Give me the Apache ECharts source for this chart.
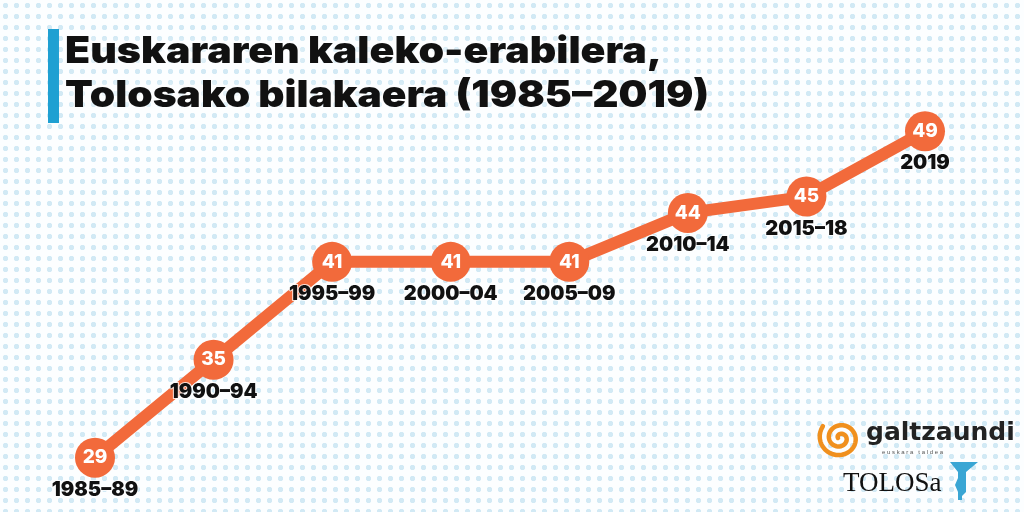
<!DOCTYPE html>
<html>
<head>
<meta charset="utf-8">
<script src="https://cdn.jsdelivr.net/npm/echarts@6/dist/echarts.min.js"></script>
<style>
html,body{margin:0;padding:0;}
body{width:1024px;height:512px;overflow:hidden;background-color:#fcfeff;
background-image:
 radial-gradient(circle, rgba(200,228,242,0.8) 2.4px, transparent 3px);
background-size:11px 11px;}
#c{width:1024px;height:512px;}
</style>
</head>
<body>
<div id="c"></div>
<script>
const categories = ['1985-89','1990-94','1995-99','2000-04','2005-09','2010-14','2015-18','2019'];
const values = [29, 35, 41, 41, 41, 44, 45, 49];
const titleLines = ['Euskararen kaleko-erabilera,', 'Tolosako bilakaera (1985–2019)'];
const orange = '#f26a3b';
const font = 'Inter, "Open Sans", sans-serif';

// decorative spiral for the logo
const spiral = [];
for (let i = 0; i <= 80; i++) {
  const t = i / 80 * Math.PI * 4.2;
  const r = 2 + t * 1.45;
  spiral.push([840 + r * Math.cos(t + Math.PI), 438 + r * Math.sin(t + Math.PI) * 0.95]);
}

const chart = echarts.init(document.getElementById('c'), null, {renderer:'canvas'});
chart.setOption({
  backgroundColor: 'transparent',
  animation: false,
  grid: {left: 95, right: 99, top: 115, bottom: 38},
  xAxis: {type:'category', data: categories, boundaryGap:false, show:false},
  yAxis: {type:'value', min:28, max:50, show:false},
  graphic: [
    {type:'rect', left:48, top:29, shape:{width:11, height:94}, style:{fill:'#1fa0d2'}},
    {type:'text', x:65, y:33, scaleX:1.11, style:{text:titleLines[0], font:'900 37px '+font, fill:'#111', textShadowColor:'#fff', textShadowBlur:10}},
    {type:'text', x:65, y:77, scaleX:1.1, style:{text:titleLines[1], font:'900 37px '+font, fill:'#111', textShadowColor:'#fff', textShadowBlur:10}},
    {type:'polyline', shape:{points: spiral}, style:{stroke:'#f0901e', lineWidth:4.5, fill:null, lineCap:'round'}},
    {type:'text', left:866, top:421, style:{text:'galtzaundi', font:'700 25px "DejaVu Sans", sans-serif', fill:'#222'}},
    {type:'text', left:882, top:449, style:{text:'e u s k a r a   t a l d e a', font:'400 6px sans-serif', fill:'#555'}},
    {type:'text', left:843, top:470, style:{text:'TOLOSa', font:'400 27px "Liberation Serif", serif', fill:'#111'}},
    {type:'polygon', shape:{points:[[950,462],[978,462],[966,472],[966,492],[962,496],[962,500],[958,500],[958,492],[955,485],[958,478],[958,472]]}, style:{fill:'#3aa6d4'}}
  ],
  series: [
    {
      type:'line', data: values, symbol:'circle', symbolSize:40,
      lineStyle:{color:orange, width:12}, itemStyle:{color:orange},
      label:{show:true, position:'inside', color:'#fff', fontFamily:font, fontWeight:800, fontSize:19},
      z:3
    },
    {
      type:'line', data: values, symbol:'circle', symbolSize:40,
      lineStyle:{opacity:0}, itemStyle:{color:'rgba(0,0,0,0)'},
      label:{show:true, position:'bottom', distance:2, color:'#111', fontFamily:font, fontWeight:900, fontSize:20,
        textBorderColor:'rgba(255,255,255,0.8)', textBorderWidth:2,
        formatter: p => categories[p.dataIndex].replace('-', '–')},
      z:4, silent:true
    }
  ]
});
</script>
</body>
</html>
